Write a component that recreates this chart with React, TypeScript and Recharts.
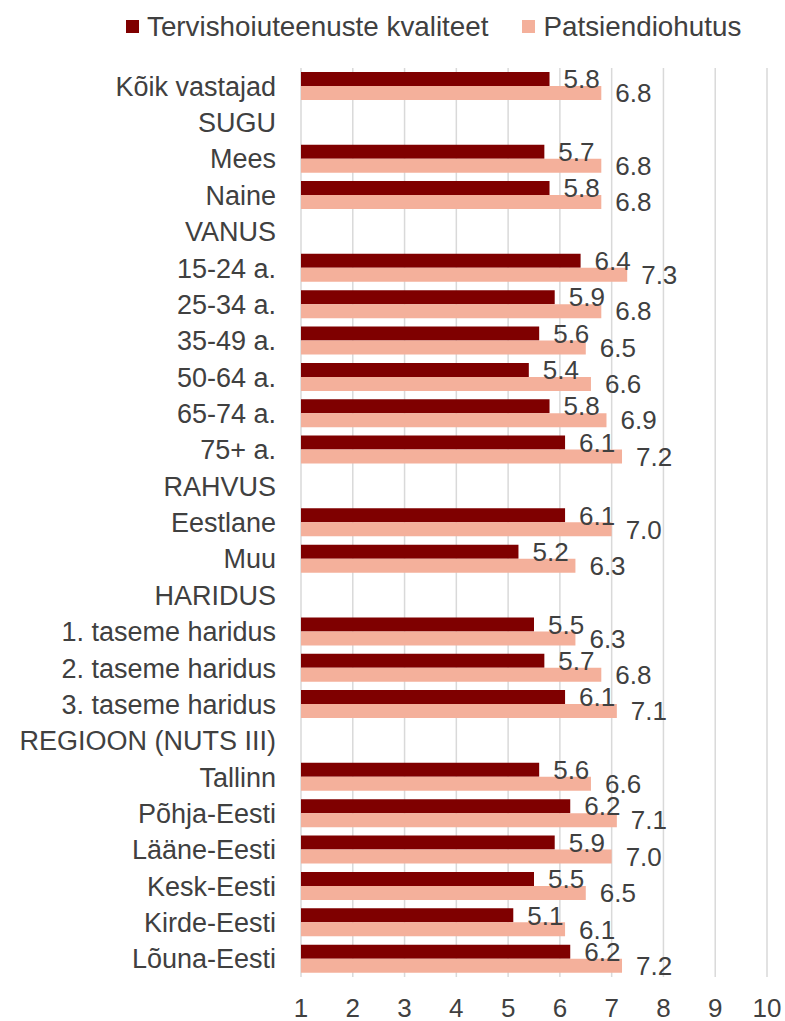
import {
  Bar,
  BarChart,
  CartesianGrid,
  LabelList,
  Legend,
  XAxis,
  YAxis,
} from "recharts";

const CATEGORIES = [
  "Kõik vastajad",
  "SUGU",
  "Mees",
  "Naine",
  "VANUS",
  "15-24 a.",
  "25-34 a.",
  "35-49 a.",
  "50-64 a.",
  "65-74 a.",
  "75+ a.",
  "RAHVUS",
  "Eestlane",
  "Muu",
  "HARIDUS",
  "1. taseme haridus",
  "2. taseme haridus",
  "3. taseme haridus",
  "REGIOON (NUTS III)",
  "Tallinn",
  "Põhja-Eesti",
  "Lääne-Eesti",
  "Kesk-Eesti",
  "Kirde-Eesti",
  "Lõuna-Eesti",
];

// null = group heading row, no bars
const KVALITEET = [
  5.8, null, 5.7, 5.8, null, 6.4, 5.9, 5.6, 5.4, 5.8, 6.1, null, 6.1, 5.2,
  null, 5.5, 5.7, 6.1, null, 5.6, 6.2, 5.9, 5.5, 5.1, 6.2,
];

const OHUTUS = [
  6.8, null, 6.8, 6.8, null, 7.3, 6.8, 6.5, 6.6, 6.9, 7.2, null, 7.0, 6.3,
  null, 6.3, 6.8, 7.1, null, 6.6, 7.1, 7.0, 6.5, 6.1, 7.2,
];

const X_TICKS = [1, 2, 3, 4, 5, 6, 7, 8, 9, 10];

const SERIES = [
  { key: "kvaliteet", name: "Tervishoiuteenuste kvaliteet", color: "#7F0000" },
  { key: "ohutus", name: "Patsiendiohutus", color: "#F4B09B" },
];

const TEXT = "#404040";
const FONT = "'Liberation Sans', Arial, sans-serif";

const data = CATEGORIES.map((name, i) => ({
  name,
  kvaliteet: KVALITEET[i],
  ohutus: OHUTUS[i],
}));

const fmt = (v: unknown) =>
  typeof v === "number" ? v.toFixed(1) : "";

const CategoryTick = ({ x, y, payload }: any) => (
  <text
    x={x}
    y={y}
    dy="0.355em"
    textAnchor="end"
    fill={TEXT}
    fontSize={27}
    fontFamily={FONT}
  >
    {payload.value}
  </text>
);

const renderLegend = () => (
  <div
    style={{
      display: "flex",
      alignItems: "center",
      height: 27,
      paddingLeft: 126,
      fontFamily: FONT,
      fontSize: 27.8,
      lineHeight: "27px",
      color: TEXT,
    }}
  >
    {SERIES.map((s, i) => (
      <div
        key={s.key}
        style={{
          display: "flex",
          alignItems: "center",
          marginRight: i === 0 ? 34 : 0,
        }}
      >
        <span
          style={{
            width: 13,
            height: 13,
            background: s.color,
            marginRight: 8,
            display: "inline-block",
          }}
        />
        <span>{s.name}</span>
      </div>
    ))}
  </div>
);

export default function App() {
  return (
    <div style={{ position: "absolute", left: 0, top: 0, fontFamily: FONT }}>
      <BarChart
        width={785}
        height={1021}
        data={data}
        layout="vertical"
        margin={{ top: 41, right: 18, bottom: 0, left: 0 }}
        barGap={0}
      >
        <CartesianGrid
          horizontal={false}
          stroke="#D9D9D9"
          strokeWidth={1.5}
        />
        <XAxis
          type="number"
          domain={[1, 10]}
          ticks={X_TICKS}
          interval={0}
          axisLine={false}
          tickLine={false}
          tickSize={0}
          tickMargin={22}
          height={44}
          tick={{ fill: TEXT, fontSize: 26, fontFamily: FONT }}
        />
        <YAxis
          type="category"
          dataKey="name"
          width={301}
          interval={0}
          axisLine={false}
          tickLine={false}
          tickSize={0}
          tickMargin={25}
          tick={<CategoryTick />}
        />
        <Legend
          verticalAlign="top"
          content={renderLegend}
          wrapperStyle={{ top: 13, left: 0, width: 785 }}
        />
        {SERIES.map((s) => (
          <Bar
            key={s.key}
            dataKey={s.key}
            name={s.name}
            fill={s.color}
            barSize={14}
            isAnimationActive={false}
          >
            <LabelList
              dataKey={s.key}
              position="right"
              offset={14}
              formatter={fmt}
              fill={TEXT}
              fontSize={26}
              fontFamily={FONT}
            />
          </Bar>
        ))}
      </BarChart>
    </div>
  );
}
